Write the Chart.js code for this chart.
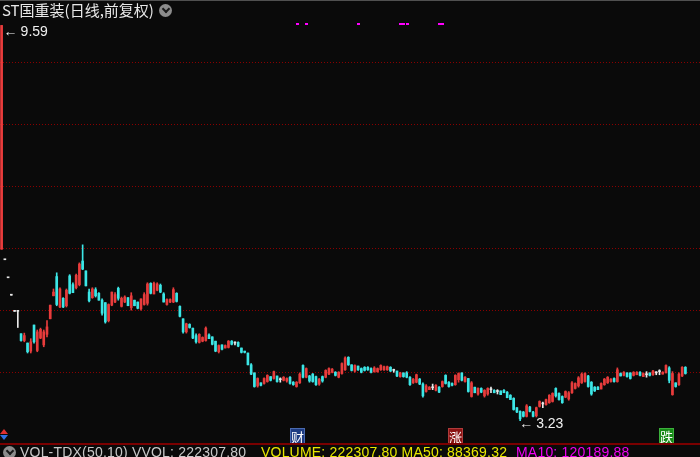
<!DOCTYPE html>
<html>
<head>
<meta charset="utf-8">
<script src="https://cdn.jsdelivr.net/npm/chart.js@4.4.1/dist/chart.umd.min.js"></script>
<style>
html, body { margin: 0; padding: 0; background: #0a0a0a; }
#wrap { position: relative; width: 700px; height: 457px; overflow: hidden; background: #0a0a0a; }
#kline { position: absolute; left: 0; top: 0; }
.txt { position: absolute; white-space: nowrap; font-family: "Liberation Sans", Arial, sans-serif; }
#title { left: 2px; top: 2px; font: 15px/16px "Noto Sans CJK SC", sans-serif; color: #e8e8e8; }
.circ { position: absolute; width: 13px; height: 13px; border-radius: 50%; background: #8c8c8c; }
.circ:after { content: ""; position: absolute; left: 4px; top: 2px; width: 4px; height: 4px;
  border-right: 2px solid #1a1a1a; border-bottom: 2px solid #1a1a1a; transform: rotate(45deg); }
.tag { position: absolute; width: 15px; height: 16px; font: 13px/16px "Noto Sans CJK SC", sans-serif;
  color: #fff; text-align: center; box-sizing: border-box; }
.mark { font-size: 14px; color: #f0f0f0; line-height: 14px; }
.mark span { margin-right: 3px; }
#sep { position: absolute; left: 0; top: 443px; width: 700px; height: 2px; background: #7a0000; }
#topline { position: absolute; left: 0; top: 0; width: 700px; height: 1px; background: #505050; }
.foot { top: 445px; font-size: 14px; line-height: 14px; letter-spacing: 0.2px; }
</style>
</head>
<body>
<div id="wrap">
  <canvas id="kline" width="700" height="457"></canvas>
  <div id="topline"></div>
  <div id="title" class="txt">ST国重装(日线,前复权)</div>
  <div class="circ" style="left:159px;top:4px"></div>
  <div id="hiLabel" class="txt mark"><span>←</span>9.59</div>
  <div id="loLabel" class="txt mark"><span>←</span>3.23</div>
  <div id="tagCai" class="tag" style="background:#1e3c82;border:1px solid #4a6ab0">财</div>
  <div id="tagZhang" class="tag" style="background:#8a1414;border:1px solid #b03a3a">涨</div>
  <div id="tagDie" class="tag" style="background:#178a17;border:1px solid #3cb03c">跌</div>
  <div style="position:absolute;left:0;top:429px;width:0;height:0;border-left:4px solid transparent;border-right:4px solid transparent;border-bottom:5px solid #e03030"></div>
  <div style="position:absolute;left:0;top:435px;width:0;height:0;border-left:4px solid transparent;border-right:4px solid transparent;border-top:5px solid #3070e0"></div>
  <div id="sep"></div>
  <div class="circ" style="left:3px;top:446px"></div>
  <div class="txt foot" style="left:20px;color:#c8c8c8">VOL-TDX(50,10) VVOL: 222307.80</div>
  <div class="txt foot" style="left:261px;color:#e8e800">VOLUME: 222307.80 MA50: 88369.32</div>
  <div class="txt foot" style="left:516px;color:#f000f0">MA10: 120189.88</div>
</div>
<script>
// daily prices (前复权), oldest first
var open = [
  5.99, 5.82, 5.53, 5.25, 4.99, 4.99, 4.63, 4.52, 4.48, 4.35,
  4.77, 4.36, 4.56, 4.45, 4.62, 4.87, 5.24, 5.55, 5.06, 5.20,
  5.08, 5.56, 5.42, 5.37, 5.42, 5.80, 5.64, 5.30, 5.21, 5.34,
  5.28, 5.17, 5.13, 4.84, 5.09, 5.14, 5.36, 5.07, 5.14, 5.21,
  5.05, 5.17, 5.14, 5.03, 5.10, 5.12, 5.44, 5.27, 5.33, 5.41,
  5.27, 5.10, 5.14, 5.14, 5.28, 5.07, 4.87, 4.66, 4.78, 4.72,
  4.60, 4.49, 4.51, 4.52, 4.61, 4.58, 4.51, 4.34, 4.45, 4.40,
  4.41, 4.51, 4.48, 4.49, 4.40, 4.35, 4.32, 4.13, 4.00, 3.79,
  3.84, 3.83, 3.86, 3.94, 3.91, 3.95, 3.89, 3.88, 3.87, 3.93,
  3.85, 3.78, 3.84, 4.12, 3.93, 3.95, 3.98, 3.94, 3.82, 3.94,
  3.93, 3.98, 4.01, 4.01, 3.93, 3.99, 4.05, 4.25, 4.13, 4.03,
  4.11, 4.07, 4.09, 4.09, 4.07, 4.02, 4.02, 4.05, 4.05, 4.05,
  4.09, 4.04, 4.03, 3.94, 4.00, 4.00, 3.93, 3.84, 3.85, 3.90,
  3.82, 3.70, 3.73, 3.76, 3.72, 3.77, 3.78, 3.96, 3.85, 3.83,
  3.81, 3.89, 4.00, 3.86, 3.91, 3.62, 3.77, 3.66, 3.75, 3.63,
  3.66, 3.73, 3.72, 3.70, 3.71, 3.72, 3.69, 3.64, 3.59, 3.44,
  3.38, 3.37, 3.30, 3.45, 3.37, 3.31, 3.46, 3.50, 3.49, 3.52,
  3.54, 3.75, 3.67, 3.62, 3.61, 3.58, 3.68, 3.75, 3.79, 3.84,
  3.86, 3.95, 3.85, 3.77, 3.77, 3.74, 3.81, 3.84, 3.86, 3.91,
  3.86, 3.99, 3.96, 4.00, 4.00, 3.96, 3.97, 4.01, 3.94, 3.97,
  4.00, 3.97, 4.00, 4.02, 3.98, 4.00, 4.08, 3.65, 3.84, 3.81,
  3.95, 4.09
];
var high = [
  9.59, 5.82, 5.53, 5.25, 4.99, 4.99, 4.63, 4.64, 4.48, 4.55,
  4.77, 4.69, 4.72, 4.69, 4.84, 5.09, 5.35, 5.61, 5.37, 5.21,
  5.35, 5.58, 5.45, 5.59, 5.77, 6.06, 5.64, 5.35, 5.37, 5.37,
  5.29, 5.19, 5.13, 5.11, 5.30, 5.29, 5.38, 5.22, 5.24, 5.21,
  5.29, 5.17, 5.14, 5.19, 5.29, 5.45, 5.45, 5.46, 5.45, 5.43,
  5.29, 5.19, 5.19, 5.37, 5.29, 5.08, 4.87, 4.80, 4.79, 4.72,
  4.63, 4.63, 4.58, 4.74, 4.63, 4.58, 4.51, 4.45, 4.45, 4.45,
  4.52, 4.52, 4.50, 4.50, 4.40, 4.35, 4.32, 4.15, 4.00, 3.92,
  3.84, 3.92, 3.97, 3.94, 4.03, 3.95, 3.92, 3.94, 3.92, 3.94,
  3.86, 3.86, 4.00, 4.13, 4.08, 3.96, 3.99, 3.95, 3.91, 3.95,
  4.05, 4.08, 4.07, 4.02, 4.02, 4.16, 4.26, 4.26, 4.13, 4.13,
  4.11, 4.08, 4.10, 4.10, 4.08, 4.10, 4.08, 4.13, 4.11, 4.11,
  4.10, 4.06, 4.03, 4.01, 4.00, 4.02, 3.94, 3.91, 3.98, 3.91,
  3.84, 3.81, 3.78, 3.82, 3.81, 3.78, 3.87, 3.97, 3.86, 3.84,
  3.97, 4.00, 4.00, 3.94, 3.91, 3.86, 3.77, 3.76, 3.76, 3.73,
  3.76, 3.77, 3.73, 3.73, 3.71, 3.73, 3.70, 3.65, 3.60, 3.44,
  3.39, 3.38, 3.49, 3.46, 3.38, 3.45, 3.55, 3.53, 3.58, 3.65,
  3.68, 3.76, 3.68, 3.63, 3.71, 3.70, 3.86, 3.84, 3.94, 4.00,
  4.00, 3.96, 3.86, 3.78, 3.78, 3.84, 3.91, 3.94, 3.91, 3.92,
  4.08, 4.00, 4.02, 4.00, 4.00, 4.02, 4.02, 4.02, 4.00, 4.02,
  4.00, 4.04, 4.02, 4.05, 4.02, 4.13, 4.10, 4.02, 3.84, 4.00,
  4.10, 4.10
];
var low = [
  5.99, 5.82, 5.53, 5.25, 4.99, 4.73, 4.51, 4.50, 4.32, 4.32,
  4.48, 4.34, 4.55, 4.42, 4.58, 4.87, 5.24, 5.08, 5.05, 5.05,
  5.06, 5.27, 5.29, 5.35, 5.40, 5.66, 5.40, 5.14, 5.20, 5.22,
  5.17, 4.93, 4.80, 4.82, 5.08, 5.13, 5.17, 5.06, 5.13, 5.08,
  5.01, 5.08, 5.03, 5.01, 5.09, 5.09, 5.27, 5.27, 5.32, 5.29,
  5.14, 5.09, 5.13, 5.13, 5.14, 4.90, 4.64, 4.64, 4.72, 4.55,
  4.48, 4.48, 4.50, 4.51, 4.55, 4.45, 4.34, 4.32, 4.37, 4.40,
  4.40, 4.45, 4.45, 4.42, 4.32, 4.32, 4.13, 3.97, 3.77, 3.77,
  3.79, 3.82, 3.85, 3.87, 3.90, 3.85, 3.85, 3.87, 3.85, 3.82,
  3.80, 3.77, 3.83, 3.92, 3.92, 3.85, 3.85, 3.80, 3.80, 3.85,
  3.92, 3.97, 4.00, 3.95, 3.92, 3.98, 4.04, 4.12, 4.03, 4.01,
  4.04, 4.00, 4.03, 4.04, 4.00, 4.01, 4.01, 4.04, 4.04, 4.04,
  4.02, 4.01, 3.94, 3.93, 3.93, 3.92, 3.80, 3.83, 3.84, 3.81,
  3.61, 3.69, 3.73, 3.73, 3.71, 3.68, 3.77, 3.82, 3.77, 3.79,
  3.80, 3.85, 3.87, 3.85, 3.69, 3.61, 3.68, 3.64, 3.68, 3.61,
  3.64, 3.68, 3.68, 3.66, 3.65, 3.68, 3.60, 3.57, 3.40, 3.36,
  3.23, 3.29, 3.29, 3.37, 3.29, 3.29, 3.45, 3.44, 3.48, 3.51,
  3.53, 3.61, 3.56, 3.51, 3.60, 3.56, 3.67, 3.74, 3.77, 3.83,
  3.85, 3.77, 3.64, 3.70, 3.73, 3.74, 3.80, 3.83, 3.85, 3.85,
  3.85, 3.95, 3.95, 3.93, 3.90, 3.95, 3.97, 3.95, 3.94, 3.93,
  3.95, 3.96, 3.97, 3.97, 3.98, 4.00, 3.84, 3.64, 3.77, 3.80,
  3.94, 3.98
];
var close = [
  9.59, 5.82, 5.53, 5.25, 4.99, 4.99, 4.52, 4.60, 4.34, 4.50,
  4.50, 4.66, 4.70, 4.66, 4.74, 5.09, 5.30, 5.10, 5.35, 5.06,
  5.33, 5.28, 5.29, 5.57, 5.75, 5.67, 5.40, 5.16, 5.35, 5.24,
  5.17, 4.96, 4.82, 5.10, 5.30, 5.26, 5.20, 5.20, 5.22, 5.08,
  5.24, 5.08, 5.04, 5.19, 5.26, 5.43, 5.28, 5.44, 5.43, 5.30,
  5.14, 5.18, 5.18, 5.34, 5.15, 4.91, 4.66, 4.79, 4.73, 4.56,
  4.50, 4.62, 4.57, 4.72, 4.55, 4.46, 4.35, 4.44, 4.38, 4.44,
  4.51, 4.46, 4.48, 4.43, 4.33, 4.33, 4.13, 3.98, 3.78, 3.91,
  3.80, 3.91, 3.96, 3.88, 4.02, 3.86, 3.89, 3.93, 3.91, 3.83,
  3.81, 3.85, 3.98, 3.93, 4.07, 3.87, 3.86, 3.81, 3.90, 3.87,
  4.04, 4.07, 4.06, 3.96, 4.01, 4.15, 4.24, 4.13, 4.04, 4.12,
  4.05, 4.01, 4.04, 4.05, 4.01, 4.08, 4.07, 4.12, 4.10, 4.10,
  4.03, 4.04, 3.95, 4.00, 3.94, 3.93, 3.81, 3.90, 3.97, 3.82,
  3.63, 3.79, 3.77, 3.76, 3.80, 3.69, 3.86, 3.83, 3.78, 3.80,
  3.96, 3.99, 3.88, 3.93, 3.70, 3.84, 3.68, 3.75, 3.69, 3.72,
  3.75, 3.73, 3.68, 3.70, 3.65, 3.68, 3.60, 3.57, 3.41, 3.37,
  3.26, 3.30, 3.47, 3.38, 3.30, 3.44, 3.54, 3.50, 3.57, 3.64,
  3.67, 3.63, 3.57, 3.52, 3.70, 3.68, 3.84, 3.83, 3.92, 3.98,
  3.99, 3.78, 3.66, 3.71, 3.73, 3.83, 3.90, 3.93, 3.90, 3.86,
  4.05, 3.95, 4.01, 3.94, 3.91, 4.01, 4.01, 3.96, 3.99, 3.97,
  3.96, 4.03, 4.00, 4.02, 4.01, 4.12, 3.88, 3.99, 3.78, 3.98,
  4.09, 3.99
];
// horizontal price grid
var gridPrices = [4, 5, 6, 7, 8, 9];
// candle indexes with info markers on top, and event tags at the bottom
var infoMarks = [91, 94, 110, 123, 124, 125, 135, 136];
var tagDays = { tagCai: 91, tagZhang: 140, tagDie: 205 };
var blankSlots = ['', '', '', ''];

var UP = '#e83c3c', DOWN = '#3ce6e6', FLAT = '#e8e8e8';
var days = open.map(function (v, i) { return String(i + 1); }).concat(blankSlots);

function candleColor(c) {
  var i = c.dataIndex;
  if (close[i] > open[i]) return UP;
  if (close[i] < open[i]) return DOWN;
  return FLAT;
}

var hiIdx = high.indexOf(Math.max.apply(null, high));
var loIdx = low.indexOf(Math.min.apply(null, low));

var overlay = {
  id: 'overlay',
  afterDatasetsDraw: function (chart) {
    var ctx = chart.ctx, xs = chart.scales.x, ys = chart.scales.y;
    ctx.save();
    ctx.fillStyle = '#ff00ff';
    infoMarks.forEach(function (i) {
      ctx.fillRect(Math.round(xs.getPixelForValue(i)) - 1, 23, 3, 2);
    });
    ctx.restore();
    var hi = document.getElementById('hiLabel');
    hi.style.left = (xs.getPixelForValue(hiIdx) + 2) + 'px';
    hi.style.top = (ys.getPixelForValue(high[hiIdx]) - 1) + 'px';
    var lo = document.getElementById('loLabel');
    lo.style.left = (xs.getPixelForValue(loIdx) - 1) + 'px';
    lo.style.top = (ys.getPixelForValue(low[loIdx]) - 5) + 'px';
    Object.keys(tagDays).forEach(function (id) {
      var el = document.getElementById(id);
      el.style.left = Math.round(xs.getPixelForValue(tagDays[id]) - 7) + 'px';
      el.style.top = '428px';
    });
  }
};

new Chart(document.getElementById('kline'), {
  type: 'bar',
  data: {
    labels: days,
    datasets: [{
      label: 'shadow',
      data: high.map(function (h, i) { return [low[i], h]; }),
      backgroundColor: candleColor,
      barThickness: 1,
      grouped: false,
      order: 2
    }, {
      label: 'body',
      data: open.map(function (o, i) { return [o, close[i]]; }),
      backgroundColor: candleColor,
      barThickness: 2,
      minBarLength: 1,
      grouped: false,
      order: 1
    }]
  },
  options: {
    responsive: false,
    animation: false,
    layout: { padding: { top: 18, bottom: 17, left: 0, right: 0 } },
    plugins: { legend: { display: false }, tooltip: { enabled: false } },
    scales: {
      x: { type: 'category', offset: true, display: false },
      y: {
        min: 2.92,
        max: 9.71,
        afterBuildTicks: function (s) { s.ticks = gridPrices.map(function (v) { return { value: v }; }); },
        afterFit: function (s) { s.width = 0; },
        ticks: { display: false },
        border: { display: false, dash: [1, 2] },
        grid: { color: '#8a0000', lineWidth: 1, drawTicks: false }
      }
    }
  },
  plugins: [overlay]
});
</script>
</body>
</html>
